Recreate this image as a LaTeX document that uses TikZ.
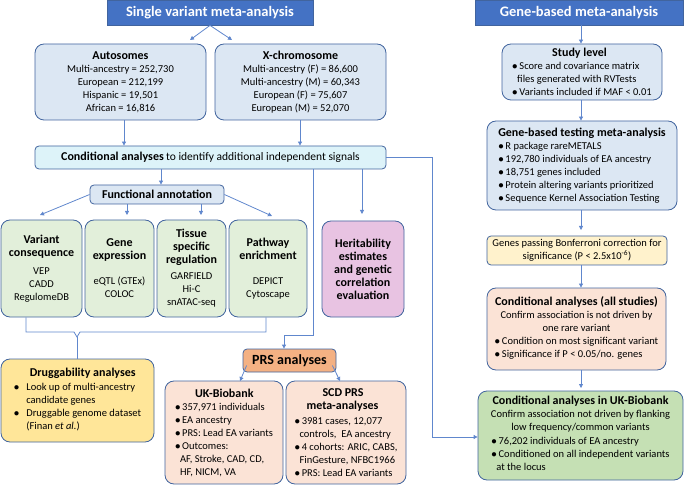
\documentclass[tikz,border=0pt]{standalone}
\usepackage{fontspec}
\setmainfont{Carlito}
\usetikzlibrary{arrows.meta}
\definecolor{tblue}{HTML}{4472C4}
\definecolor{edge}{HTML}{41649E}
\definecolor{lblue}{HTML}{DCE7F3}
\definecolor{lcyan}{HTML}{DDF3F9}
\definecolor{lgreen}{HTML}{E2EFDA}
\definecolor{pink}{HTML}{E8C3E2}
\definecolor{yel}{HTML}{FFE699}
\definecolor{lyel}{HTML}{FFF2CC}
\definecolor{orng}{HTML}{F4B183}
\definecolor{peach}{HTML}{FBE3D6}
\definecolor{mgreen}{HTML}{C5E0B4}
\tikzset{
 x=1pt,y=-1pt,
 base/.style={draw=edge,line width=0.8pt,rounded corners=9pt,align=center,inner sep=2pt,font=\fontsize{10.5}{13}\selectfont},
 title/.style={fill=tblue,draw=edge,text=white,font=\bfseries\fontsize{14.5}{16}\selectfont,inner sep=0pt,rounded corners=0pt},
 arr/.style={-{Triangle[width=4pt,length=4pt]},draw=tblue!85!white,line width=0.8pt},
 ln/.style={draw=tblue!85!white,line width=0.8pt},
}
\newcommand{\bx}[6]{\node[base,#1,minimum width=#4-#2,minimum height=#5-#3] (#6) at ({(#2+#4)/2},{(#3+#5)/2})}
\newcommand{\hd}[1]{{\bfseries\fontsize{12}{14}\selectfont #1}}
\begin{document}
\begin{tikzpicture}
\useasboundingbox (0,0) rectangle (685,486);
% left
\bx{title}{107}{0}{313}{25}{t1} {Single variant meta-analysis};
\bx{fill=lblue}{35}{44}{206}{120}{auto} {\hd{Autosomes}\\Multi-ancestry = 252,730\\European = 212,199\\Hispanic = 19,501\\African = 16,816};
\bx{fill=lblue}{215}{44}{386}{120}{xchr} {\hd{X-chromosome}\\Multi-ancestry (F) = 86,600\\Multi-ancestry (M) = 60,343\\European (F) = 75,607\\European (M) = 52,070};
\bx{fill=lcyan,rounded corners=4pt}{35}{146}{386}{169}{cond} {\hd{Conditional analyses} {\fontsize{11.5}{13}\selectfont to identify additional independent signals}};
\bx{fill=lblue,rounded corners=4pt}{90}{185}{224}{204}{fa} {\hd{Functional annotation}};
\bx{fill=lgreen}{1}{220}{82}{317}{vc} {\hd{Variant}\\\hd{consequence}\\[5pt]VEP\\CADD\\RegulomeDB};
\bx{fill=lgreen}{85}{220}{154}{317}{ge} {\hd{Gene}\\\hd{expression}\\[12pt]eQTL (GTEx)\\COLOC};
\bx{fill=lgreen}{157}{220}{226}{317}{ts} {\hd{Tissue}\\\hd{specific}\\\hd{regulation}\\[3pt]GARFIELD\\Hi-C\\snATAC-seq};
\bx{fill=lgreen}{229}{220}{307}{317}{pe} {\hd{Pathway}\\\hd{enrichment}\\[12pt]DEPICT\\Cytoscape};
\bx{fill=pink}{322}{221}{404}{317}{her} {\hd{Heritability}\\\hd{estimates}\\\hd{and genetic}\\\hd{correlation}\\\hd{evaluation}};
\bx{fill=yel,align=left}{1}{359}{154}{442}{drug} {\hspace*{16pt}\hd{Druggability analyses}\\[2pt]
  \begin{tabular}{@{}l@{\hspace{7pt}}l@{}}$\bullet$&Look up of multi-ancestry\\&candidate genes\\$\bullet$&Druggable genome dataset\\&(Finan \emph{et al.})\end{tabular}};
\bx{fill=orng,rounded corners=4pt}{243}{349}{336}{372}{prs} {\hd{\fontsize{14}{16}\selectfont PRS analyses}};
\bx{fill=peach,align=left}{165}{381}{283}{484}{ukb} {\hspace*{20pt}\hd{UK-Biobank}\\$\bullet$\,357,971 individuals\\$\bullet$\,EA ancestry\\$\bullet$\,PRS: Lead EA variants\\$\bullet$\,Outcomes:\\\hspace*{5pt}AF, Stroke, CAD, CD,\\\hspace*{5pt}HF, NICM, VA};
\bx{fill=peach,align=left}{286}{381}{406}{484}{scd} {\hspace*{28pt}\hd{SCD PRS}\\\hspace*{12pt}\hd{meta-analyses}\\[2pt]$\bullet$\,3981 cases, 12,077\\\hspace*{5pt}controls,\ \ EA ancestry\\$\bullet$\,4 cohorts: ARIC, CABS,\\\hspace*{5pt}FinGesture, NFBC1966\\$\bullet$\,PRS: Lead EA variants};
% right
\bx{title}{475}{0}{683}{25}{t2} {Gene-based meta-analysis};
\bx{fill=lblue,align=left}{502}{44}{662}{100}{sl} {\hspace*{40pt}\hd{Study level}\\$\bullet$\,Score and covariance matrix\\\hspace*{5pt}files generated with RVTests\\$\bullet$\,Variants included if MAF < 0.01};
\bx{fill=lblue,align=left}{487}{121}{677}{210}{gb} {\hd{Gene-based testing meta-analysis}\\$\bullet$\,R package rareMETALS\\$\bullet$\,192,780 individuals of EA ancestry\\$\bullet$\,18,751 genes included\\$\bullet$\,Protein altering variants prioritized\\$\bullet$\,Sequence Kernel Association Testing};
\bx{fill=lyel,rounded corners=4pt}{487}{236}{667}{265}{gp} {Genes passing Bonferroni correction for\\significance (P < 2.5x10\textsuperscript{-6})};
\bx{fill=peach}{487}{288}{666}{370}{ca} {\hd{Conditional analyses (all studies)}\\Confirm association is not driven by\\one rare variant\\[2pt]
  \begin{tabular}{@{}l@{}}$\bullet$\,Condition on most significant variant\\$\bullet$\,Significance if P < 0.05/no. genes\end{tabular}};
\bx{fill=mgreen}{478}{391}{683}{480}{cu} {\hd{Conditional analyses in UK-Biobank}\\Confirm association not driven by flanking\\low frequency/common variants\\[2pt]
  \begin{tabular}{@{}l@{}}$\bullet$\,76,202 individuals of EA ancestry\\$\bullet$\,Conditioned on all independent variants\\\hspace*{5pt}at the locus\end{tabular}};
% connectors left
\draw[arr] (t1.south) -- (190,40);
\draw[arr] (t1.south) -- (232,40);
\draw[arr] (auto.south -| 124,0) -- (cond.north -| 124,0);
\draw[arr] (xchr.south -| 300,0) -- (cond.north -| 300,0);
\draw[arr] (cond.south -| 161,0) -- (fa.north -| 161,0);
\draw[arr] (fa.west) -- (40,215);
\draw[arr] (fa.south -| 127,0) -- (127,215);
\draw[arr] (fa.south -| 201,0) -- (201,215);
\draw[arr] (fa.east) -- (272,216);
\draw[ln] (cond.south -| 313,0) -- (313,335) -- (284,335);
\draw[arr] (284,335) -- (prs.north -| 284,0);
\draw[arr] (cond.south -| 362,0) -- (362,214);
\draw[ln] (cond.east) -- (432,157.5) -- (432,437);
\draw[arr] (432,437) -- (cu.west |- 0,437);
\draw[ln] (vc.south -| 26,0) -- (26,332) -- (74,332) -- (77,337) -- (80,332) -- (266,332) -- (pe.south -| 266,0);
\draw[ln] (77,337) -- (drug.north -| 77,0);
\draw[arr] (prs.west) ++(4,5) -- (240,381);
\draw[arr] (prs.east) ++(-4,5) -- (340,381);
% connectors right
\draw[arr] (t2.south -| 581,0) -- (sl.north -| 581,0);
\draw[arr] (sl.south -| 581,0) -- (gb.north -| 581,0);
\draw[arr] (gb.south -| 581,0) -- (581,230);
\draw[arr] (gp.south -| 581,0) -- (ca.north -| 581,0);
\draw[arr] (ca.south -| 581,0) -- (581,388);
\end{tikzpicture}
\end{document}
